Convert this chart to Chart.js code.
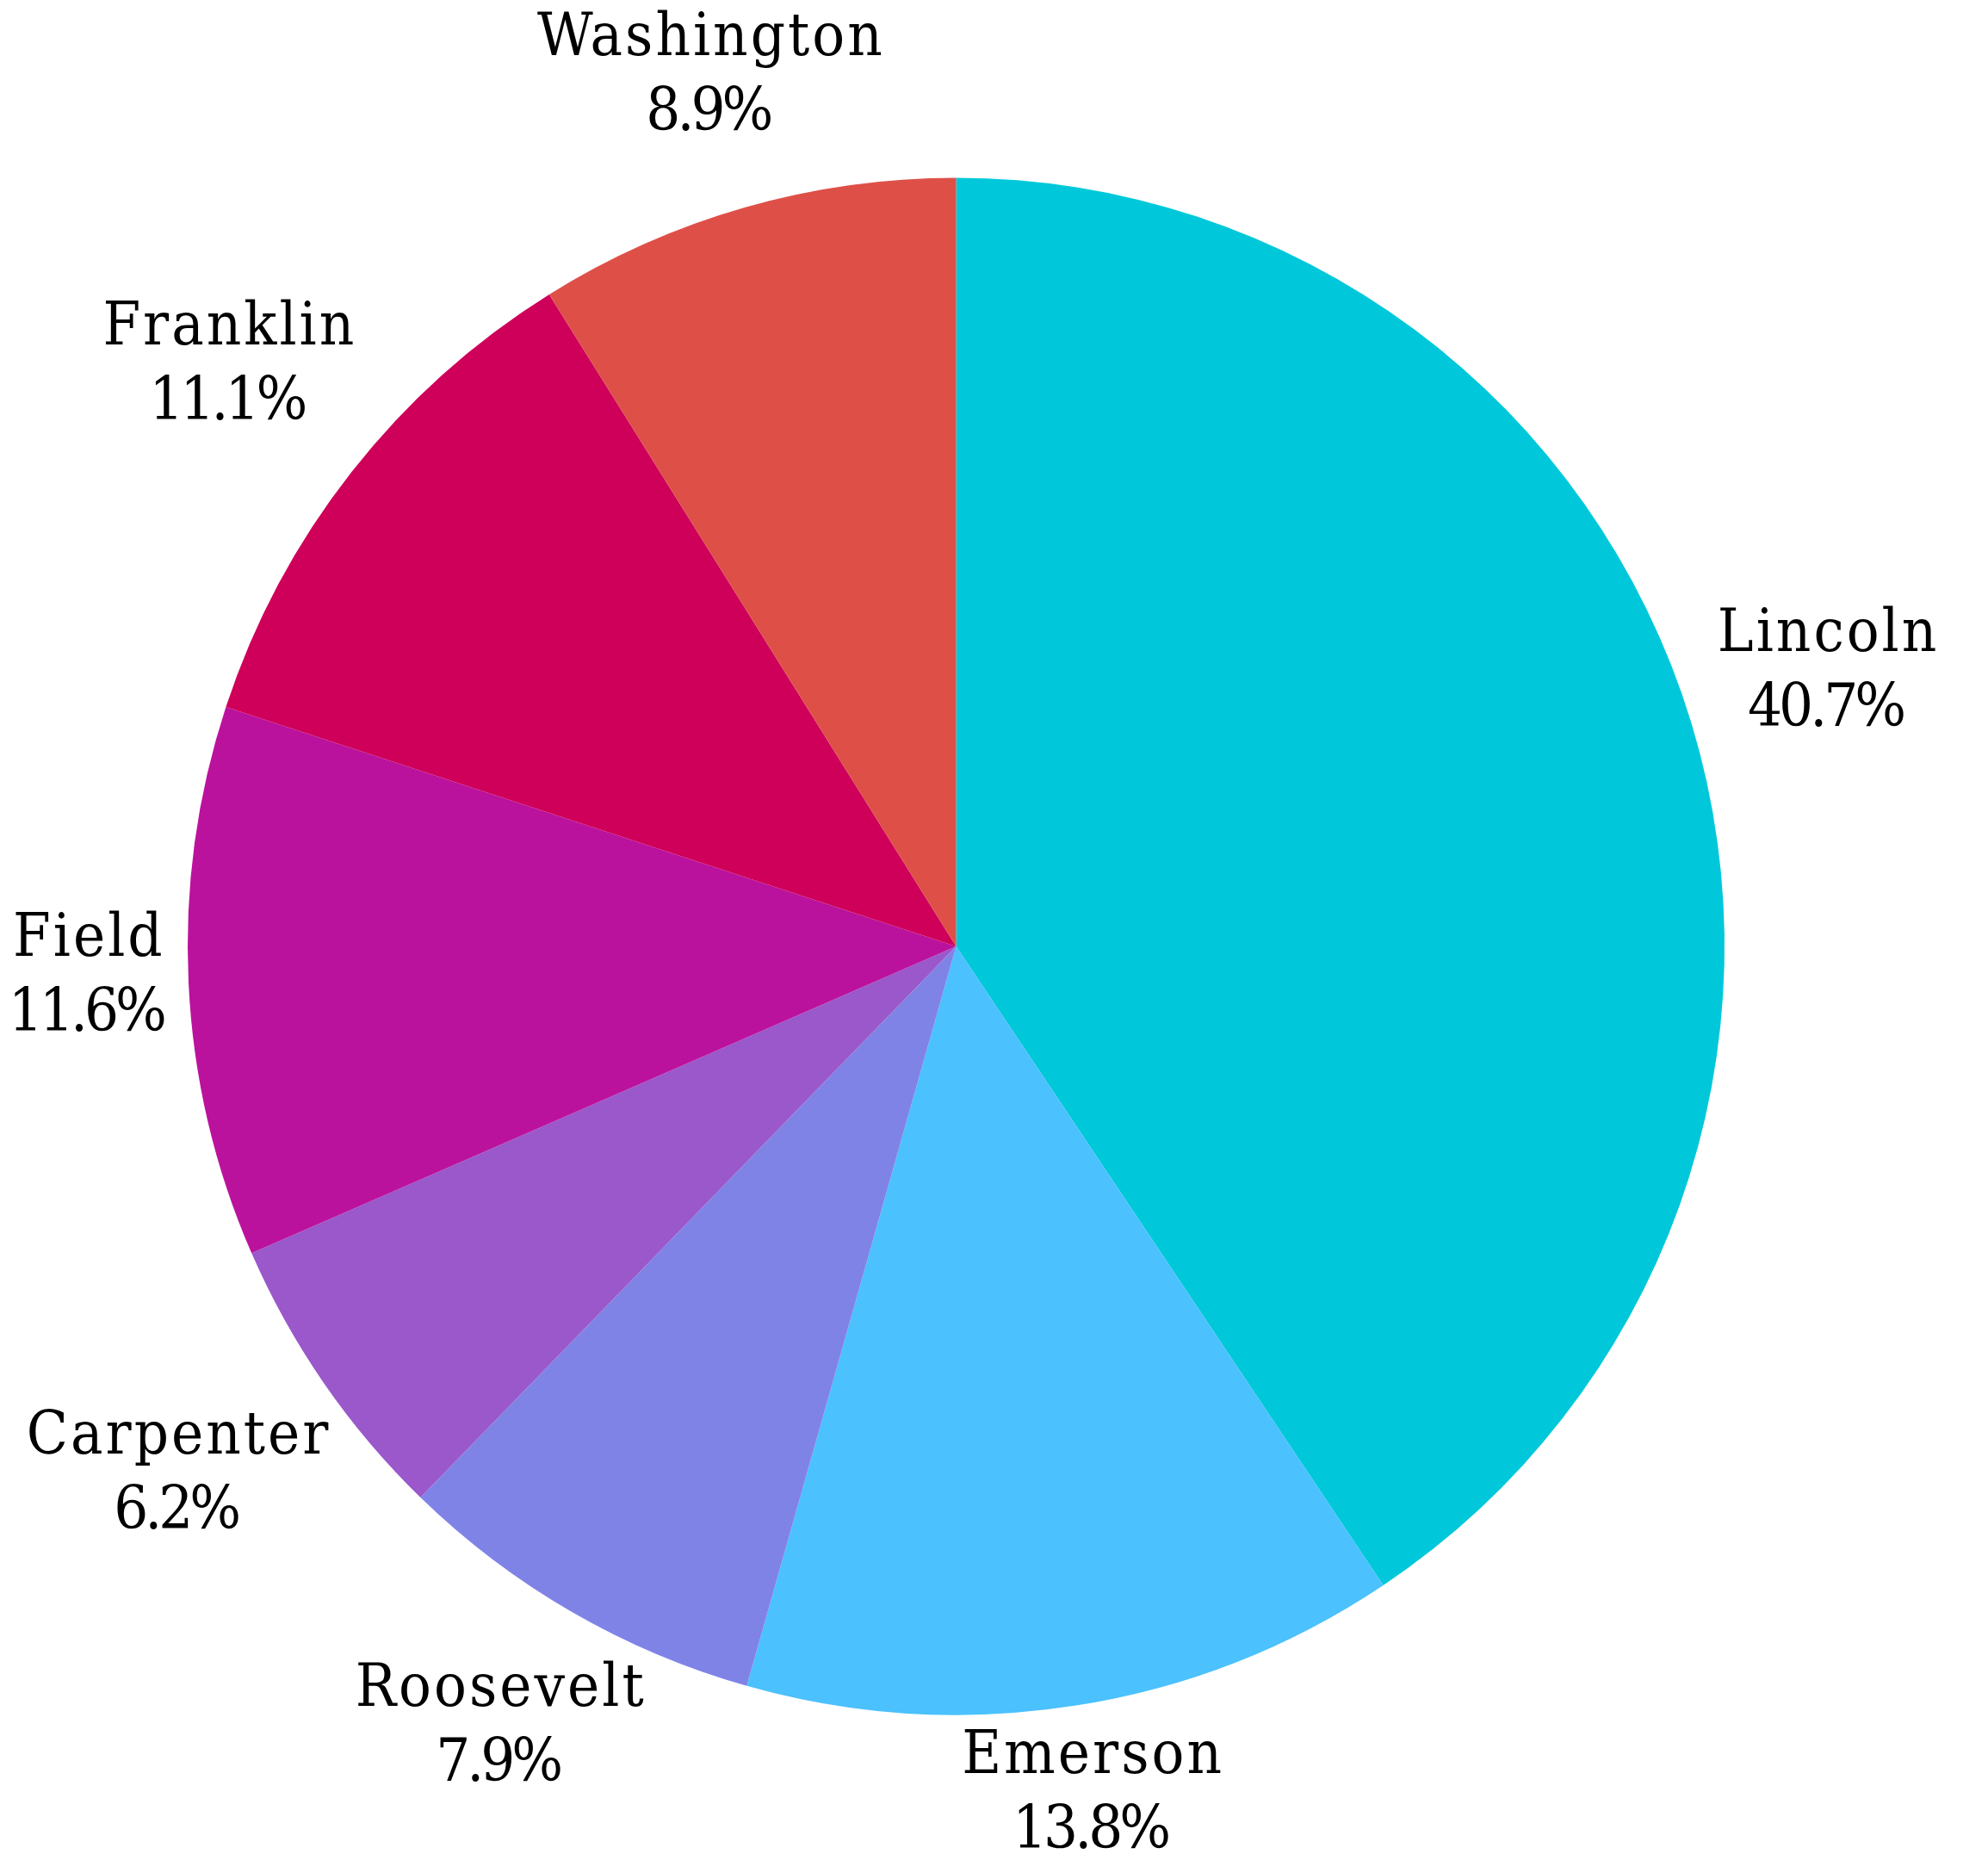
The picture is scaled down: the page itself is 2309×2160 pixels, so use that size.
<!DOCTYPE html>
<html>
<head>
<meta charset="utf-8">
<script src="https://cdn.jsdelivr.net/npm/chart.js@4"></script>
<style>
  body { margin: 0; background: #fff; }
  #wrap { width: 2309px; height: 2160px; }
</style>
</head>
<body>
<div id="wrap"><canvas id="myChart" width="2309" height="2160"></canvas></div>
<script>
// data, clockwise from 12 o'clock
const names = ["Lincoln", "Emerson", "Roosevelt", "Carpenter", "Field", "Franklin", "Washington"];
const shares = [40.7, 13.8, 7.9, 6.2, 11.6, 11.1, 8.9];
const colors = ["#00C8DA", "#4BC1FD", "#8083E6", "#9A58CB", "#BB129D", "#CF005A", "#DE5047"];

const labelFont = '70px "DejaVu Serif Condensed", "DejaVu Serif", serif';
const linePitch = 87;
const nameSpacing = 3;   // px between letters of the name line
const pctSpacing = -4;   // percent line is tighter

// measure / draw one line with letter spacing
function lineWidth(ctx, text, sp) {
    ctx.letterSpacing = sp + "px";
    return ctx.measureText(text).width - sp;
}
function drawLine(ctx, text, sp, x, y) {
    ctx.letterSpacing = sp + "px";
    ctx.fillText(text, x + sp / 2, y);
}

// draw "name / xx.x%" outside each slice
const outsideLabels = {
    id: "outsideLabels",
    afterDatasetsDraw(chart) {
        const ctx = chart.ctx;
        const meta = chart.getDatasetMeta(0);
        ctx.save();
        ctx.font = labelFont;
        ctx.fillStyle = "#000";
        ctx.textAlign = "center";
        ctx.textBaseline = "middle";
        meta.data.forEach((arc, i) => {
            let mid = (arc.startAngle + arc.endAngle) / 2;
            let ux = Math.cos(mid), uy = Math.sin(mid);
            let pct = shares[i].toFixed(1) + "%";
            let w = Math.max(lineWidth(ctx, names[i], nameSpacing), lineWidth(ctx, pct, pctSpacing)) / 2;
            let h = 72;
            let d = arc.outerRadius + 22 + w * Math.abs(ux) + h * Math.abs(uy);
            let cx = arc.x + d * ux, cy = arc.y + d * uy - 11;
            drawLine(ctx, names[i], nameSpacing, cx, cy - linePitch / 2);
            drawLine(ctx, pct, pctSpacing, cx, cy + linePitch / 2);
        });
        ctx.restore();
    }
};

const ctx = document.getElementById("myChart").getContext("2d");
const myChart = new Chart(ctx, {
    type: "pie",
    data: {
        labels: names,
        datasets: [{
            data: shares,
            backgroundColor: colors,
            borderWidth: 0
        }]
    },
    options: {
        responsive: false,
        animation: false,
        layout: { padding: { left: 218, right: 306, top: 206, bottom: 168 } },
        plugins: {
            legend: { display: false },
            tooltip: { enabled: false }
        }
    },
    plugins: [outsideLabels]
});
</script>
</body>
</html>
